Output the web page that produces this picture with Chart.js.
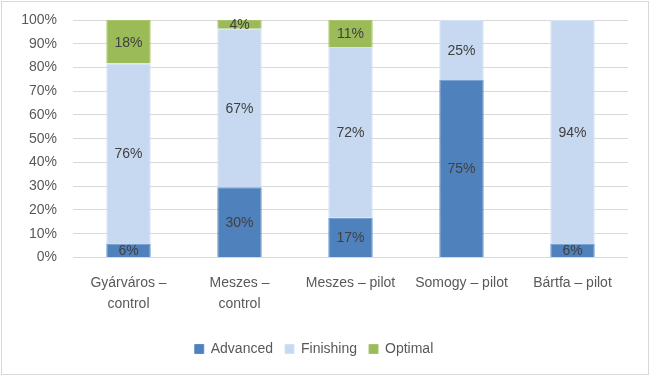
<!DOCTYPE html>
<html>
<head>
<meta charset="utf-8">
<style>
  html, body { margin: 0; padding: 0; background: #fff; }
  #wrap { position: relative; width: 651px; height: 377px; }
</style>
<script src="https://cdn.jsdelivr.net/npm/chart.js@4.4.1/dist/chart.umd.min.js"></script>
</head>
<body>
<div id="wrap"><canvas id="chart" width="651" height="377"></canvas></div>
<script>
// categories and series (percent of pupils)
var categories = [['Gyárváros –', 'control'], ['Meszes –', 'control'], 'Meszes – pilot', 'Somogy – pilot', 'Bártfa – pilot'];
var advanced = [5.9, 29.6, 16.7, 74.9, 5.9];
var finishing = [75.8, 66.7, 71.9, 25.1, 94.1];
var optimal = [18.3, 3.7, 11.4, 0, 0];
var yTicks = [0, 10, 20, 30, 40, 50, 60, 70, 80, 90, 100];

var FONT = '"Liberation Sans", Arial, sans-serif';

// frame round the whole chart
var framePlugin = {
    id: 'frame',
    beforeDraw: function(chart) {
        var c = chart.ctx;
        c.save();
        c.fillStyle = '#fff';
        c.fillRect(0, 0, chart.width, chart.height);
        c.strokeStyle = '#D9D9D9';
        c.lineWidth = 1;
        c.strokeRect(1.5, 1.5, chart.width - 4, chart.height - 4);
        c.restore();
    }
};

// value labels in the middle of each segment
var valueLabels = {
    id: 'valueLabels',
    afterDatasetsDraw: function(chart) {
        var c = chart.ctx;
        c.save();
        c.font = '14px ' + FONT;
        c.fillStyle = '#404040';
        c.textAlign = 'center';
        c.textBaseline = 'middle';
        chart.data.datasets.forEach(function(ds, i) {
            var meta = chart.getDatasetMeta(i);
            meta.data.forEach(function(bar, j) {
                var v = ds.data[j];
                if (!v) return;
                var p = bar.getCenterPoint();
                c.fillText(Math.round(v) + '%', p.x, p.y + 1);
            });
        });
        c.restore();
    }
};

var ctx = document.getElementById('chart');
new Chart(ctx, {
    type: 'bar',
    data: {
        labels: categories,
        datasets: [
            { label: 'Advanced', data: advanced, backgroundColor: '#4F81BD', borderColor: '#5B8CC7', borderWidth: 1 },
            { label: 'Finishing', data: finishing, backgroundColor: '#C6D9F1', borderColor: '#D2E1F4', borderWidth: 1 },
            { label: 'Optimal', data: optimal, backgroundColor: '#9BBB59', borderColor: '#A7C46A', borderWidth: 1 }
        ]
    },
    options: {
        responsive: false,
        animation: false,
        devicePixelRatio: 1,
        layout: { padding: { left: 0, right: 23, top: 20, bottom: 11 } },
        datasets: { bar: { categoryPercentage: 1, barPercentage: 0.4 } },
        scales: {
            x: {
                stacked: true,
                grid: { display: false, drawTicks: false },
                border: { display: false },
                ticks: { color: '#595959', font: { family: FONT, size: 14, lineHeight: 1.45 }, padding: 16, maxRotation: 0, autoSkip: false }
            },
            y: {
                stacked: true,
                min: 0,
                max: 100,
                afterBuildTicks: function(scale) {
                    scale.ticks = yTicks.map(function(v) { return { value: v }; });
                },
                afterFit: function(scale) {
                    scale.width = 73;
                    scale.paddingTop = 0;
                    scale.paddingBottom = 0;
                },
                grid: { color: '#D9D9D9', drawTicks: false },
                border: { display: false },
                ticks: {
                    color: '#595959',
                    font: { family: FONT, size: 14 },
                    padding: 16,
                    callback: function(v) { return v + '%'; }
                }
            }
        },
        plugins: {
            legend: {
                position: 'bottom',
                labels: {
                    boxWidth: 9,
                    boxHeight: 9,
                    padding: 12,
                    color: '#595959',
                    font: { family: FONT, size: 14 }
                }
            },
            tooltip: { enabled: false }
        }
    },
    plugins: [framePlugin, valueLabels]
});
</script>
</body>
</html>
